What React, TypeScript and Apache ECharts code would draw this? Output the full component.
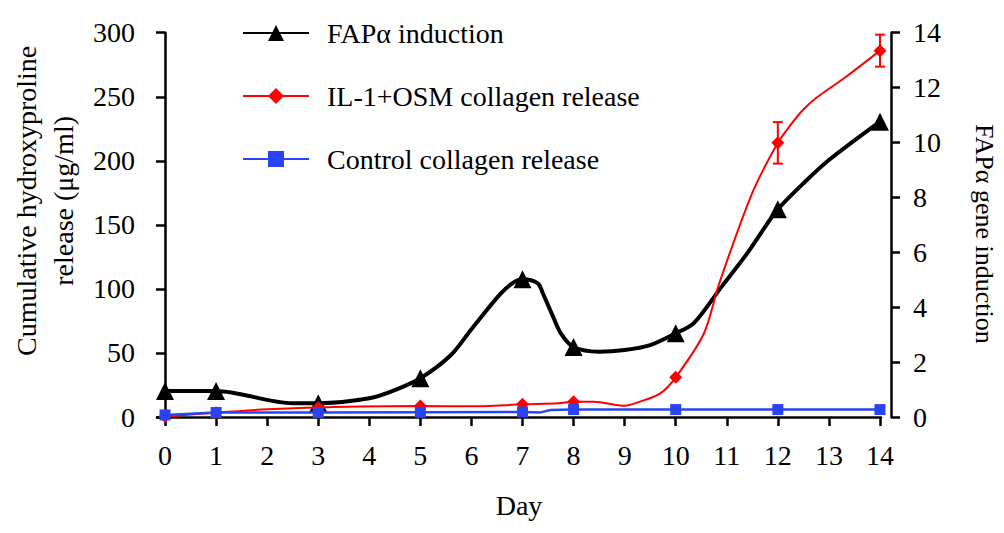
import React, { useEffect, useRef } from "react";
import * as echarts from "echarts";

// ---------- data ----------
const dayTicks = [0, 1, 2, 3, 4, 5, 6, 7, 8, 9, 10, 11, 12, 13, 14];

// FAPα induction (right axis, fold)
const fapDays = [0, 1, 2.5, 3, 4, 4.5, 5, 5.6, 6, 6.55, 6.8, 7, 7.3, 7.4, 7.6, 7.75, 8, 8.5, 9, 9.5, 10, 10.35, 10.9, 11.4, 11.8, 12, 12.5, 13, 14];
const fapValues = [0.95, 0.95, 0.5, 0.5, 0.68, 0.98, 1.41, 2.26, 3.2, 4.45, 4.87, 5.02, 4.87, 4.5, 3.65, 3.05, 2.55, 2.38, 2.44, 2.62, 3.05, 3.41, 4.75, 5.96, 7.06, 7.57, 8.51, 9.36, 10.76];
const fapMarkerDays = [0, 1, 3, 5, 7, 8, 10, 12, 14];

// IL-1+OSM collagen release (left axis, µg/ml)
const il1Days = [0, 1, 2, 3, 5, 6, 7, 7.7, 8, 8.4, 9, 9.3, 9.7, 10, 10.55, 10.85, 11.5, 12, 12.25, 12.5, 12.75, 13.35, 14];
const il1Values = [0.3, 3.4, 6, 7.5, 8.5, 8.3, 9.9, 10.7, 12, 12, 8.8, 12, 18.5, 31, 65, 104, 175, 214, 228, 240, 249, 266, 286];
const il1MarkerDays = [0, 1, 3, 5, 7, 8, 10, 12, 14];
const il1ErrDays = [12, 14];
const il1ErrMeans = [214, 286];
const il1ErrSizes = [16.2, 12.5];

// Control collagen release (left axis, µg/ml)
const ctrlDays = [0, 1, 3, 5, 7, 7.35, 7.55, 8, 10, 12, 14];
const ctrlValues = [1.6, 3.5, 3.5, 3.7, 3.9, 3.6, 5.5, 5.8, 5.8, 5.8, 5.8];
const ctrlMarkerDays = [0, 1, 3, 5, 7, 8, 10, 12, 14];

const seriesNames = ["FAPα induction", "IL-1+OSM collagen release", "Control collagen release"];

const FONT = "Liberation Serif, Times New Roman, serif";

function buildData(days: number[], values: number[], markers: number[], symbol: string) {
  return days.map((d, i) => ({
    value: [d, values[i]],
    symbol: markers.includes(d) ? symbol : "none",
  }));
}

export default function App() {
  const ref = useRef<HTMLDivElement>(null);

  useEffect(() => {
    if (!ref.current) return;
    const chart = echarts.init(ref.current, undefined, { renderer: "svg" });

    const axisLine = { show: true, lineStyle: { color: "#000", width: 2.5 } };
    const axisTick = { show: true, length: 9, lineStyle: { color: "#000", width: 2.5 } };
    const labelStyle = { fontFamily: FONT, fontSize: 28, color: "#000", fontWeight: "normal" as const };

    const option: any = {
      animation: false,
      backgroundColor: "#fff",
      textStyle: { fontFamily: FONT, color: "#000" },
      grid: { left: 157, right: 123, top: 32.7, bottom: 116, containLabel: false, outerBoundsMode: "none" },
      legend: {
        orient: "vertical",
        left: 242,
        top: 19,
        padding: 0,
        itemWidth: 66,
        itemHeight: 20,
        itemGap: 35,
        data: seriesNames,
        textStyle: { ...labelStyle, lineHeight: 28, padding: [0, 0, 0, 13] },
      },
      xAxis: {
        type: "value",
        min: -0.157,
        max: 14.02,
        name: "Day",
        nameLocation: "middle",
        nameGap: 74,
        nameTextStyle: { ...labelStyle },
        axisLine,
        axisTick: { ...axisTick, customValues: dayTicks },
        axisLabel: { ...labelStyle, customValues: dayTicks, margin: 24 },
        splitLine: { show: false },
      },
      yAxis: [
        {
          type: "value",
          position: "left",
          offset: 8,
          min: 0,
          max: 300,
          interval: 50,
          name: "Cumulative hydroxyproline\nrelease (μg/ml)",
          nameLocation: "middle",
          nameRotate: 90,
          nameGap: 66,
          nameTextStyle: { ...labelStyle, lineHeight: 37, padding: [0, 0, 0, 48] },
          axisLine,
          axisTick,
          axisLabel: { ...labelStyle, margin: 14 },
          splitLine: { show: false },
        },
        {
          type: "value",
          position: "right",
          offset: 10,
          min: 0,
          max: 14,
          interval: 2,
          name: "FAPα gene induction",
          nameLocation: "middle",
          nameRotate: -90,
          nameGap: 80,
          nameTextStyle: { ...labelStyle, fontSize: 26, padding: [0, 0, 0, 18] },
          axisLine,
          axisTick,
          axisLabel: { ...labelStyle, margin: 22 },
          splitLine: { show: false },
        },
      ],
      series: [
        {
          name: seriesNames[0],
          type: "line",
          yAxisIndex: 1,
          smooth: 0.3,
          symbol: "triangle",
          symbolSize: 18,
          color: "#000",
          itemStyle: { color: "#000" },
          lineStyle: { color: "#000", width: 4 },
          data: buildData(fapDays, fapValues, fapMarkerDays, "triangle"),
          z: 2,
        },
        {
          name: seriesNames[1],
          type: "line",
          yAxisIndex: 0,
          smooth: 0.3,
          symbol: "diamond",
          symbolSize: 13,
          color: "#ff0000",
          itemStyle: { color: "#ff0000" },
          lineStyle: { color: "#ff0000", width: 2 },
          data: buildData(il1Days, il1Values, il1MarkerDays, "diamond"),
          z: 3,
        },
        {
          name: seriesNames[2],
          type: "line",
          yAxisIndex: 0,
          smooth: false,
          symbol: "rect",
          symbolSize: 11,
          color: "#2a44f5",
          itemStyle: { color: "#2a44f5" },
          lineStyle: { color: "#2a44f5", width: 2.5 },
          data: buildData(ctrlDays, ctrlValues, ctrlMarkerDays, "rect"),
          z: 4,
        },
        {
          type: "custom",
          yAxisIndex: 0,
          silent: true,
          z: 5,
          data: il1ErrDays.map((d, i) => [d, il1ErrMeans[i] - il1ErrSizes[i], il1ErrMeans[i] + il1ErrSizes[i]]),
          encode: { x: 0, y: [1, 2] },
          renderItem: (params: any, api: any) => {
            const lo = api.coord([api.value(0), api.value(1)]);
            const hi = api.coord([api.value(0), api.value(2)]);
            const w = 5;
            const style = { stroke: "#ff0000", lineWidth: 2 };
            return {
              type: "group",
              children: [
                { type: "line", shape: { x1: lo[0], y1: lo[1], x2: hi[0], y2: hi[1] }, style },
                { type: "line", shape: { x1: lo[0] - w, y1: lo[1], x2: lo[0] + w, y2: lo[1] }, style },
                { type: "line", shape: { x1: hi[0] - w, y1: hi[1], x2: hi[0] + w, y2: hi[1] }, style },
              ],
            };
          },
        },
      ],
    };

    chart.setOption(option);
    return () => chart.dispose();
  }, []);

  return (
    <div
      ref={ref}
      style={{ position: "fixed", left: 0, top: 0, width: 1004, height: 533, background: "#fff" }}
    />
  );
}
